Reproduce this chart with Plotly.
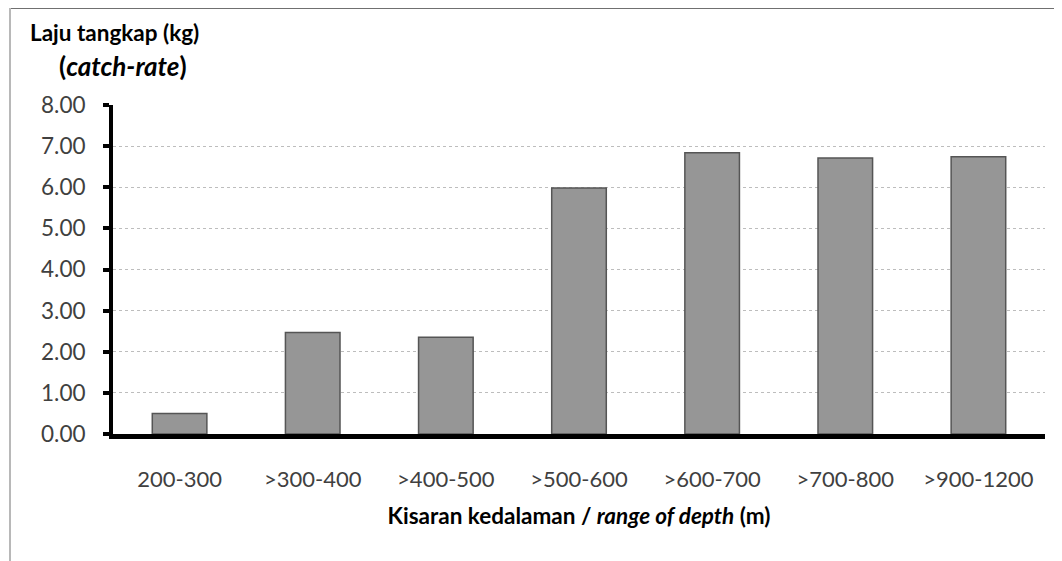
import plotly.graph_objects as go

categories = ["200-300", ">300-400", ">400-500", ">500-600", ">600-700", ">700-800", ">900-1200"]
catch_rate = [0.50, 2.47, 2.35, 5.98, 6.84, 6.71, 6.74]
y_ticks = [0, 1, 2, 3, 4, 5, 6, 7, 8]
y_tick_labels = ["0.00", "1.00", "2.00", "3.00", "4.00", "5.00", "6.00", "7.00", "8.00"]

FONT = "Lato, Open Sans, sans-serif"

# page has an 8px body margin; plot area on screen spans x 113..1045, y 105..434
PW, PH = 932, 329
X0, Y0 = 113, 434

fig = go.Figure()
fig.add_trace(go.Bar(
    x=categories, y=catch_rate,
    marker=dict(color="#969696", line=dict(color="#555555", width=1.5)),
    showlegend=False,
))

fig.update_layout(
    width=1054, height=553,
    margin=dict(l=105, r=17, t=97, b=127),
    paper_bgcolor="white", plot_bgcolor="white",
    bargap=0.59,
    font=dict(family=FONT, color="#404040", size=22),
    xaxis=dict(
        showline=True, linecolor="black", linewidth=5,
        showgrid=False, ticks="", ticklabelstandoff=22,
        tickfont=dict(size=22, color="#404040"),
        title=dict(text="<b>Kisaran kedalaman / <i>range of depth</i> (m)</b>",
                   font=dict(size=22.5, color="black"), standoff=18),
    ),
    yaxis=dict(
        range=[0, 8], tickvals=y_ticks, ticktext=y_tick_labels,
        showline=True, linecolor="black", linewidth=4,
        ticks="outside", ticklen=6, tickwidth=4, tickcolor="black",
        ticklabelstandoff=13,
        showgrid=True, gridcolor="#bdbdbd", griddash="dot", gridwidth=1,
        tickfont=dict(size=22.5, color="#404040"),
        zeroline=False,
    ),
    annotations=[
        dict(text="<b>Laju tangkap (kg)</b>", xref="paper", yref="paper",
             x=(28 - X0) / PW, y=(Y0 - 32) / PH, xanchor="left", yanchor="middle",
             showarrow=False, font=dict(size=22.5, color="black", family=FONT)),
        dict(text="<b>(<i>catch-rate</i>)</b>", xref="paper", yref="paper",
             x=(57 - X0) / PW, y=(Y0 - 66) / PH, xanchor="left", yanchor="middle",
             showarrow=False, font=dict(size=26, color="black", family=FONT)),
    ],
    shapes=[
        dict(type="line", xref="paper", yref="paper",
             x0=(9 - X0) / PW, x1=(1062 - X0) / PW,
             y0=(Y0 - 8) / PH, y1=(Y0 - 8) / PH,
             line=dict(color="#707070", width=2)),
        dict(type="line", xref="paper", yref="paper",
             x0=(10 - X0) / PW, x1=(10 - X0) / PW,
             y0=(Y0 - 8) / PH, y1=(Y0 - 561) / PH,
             line=dict(color="#b8b8b8", width=2)),
    ],
)

fig.write_html("out.html")
